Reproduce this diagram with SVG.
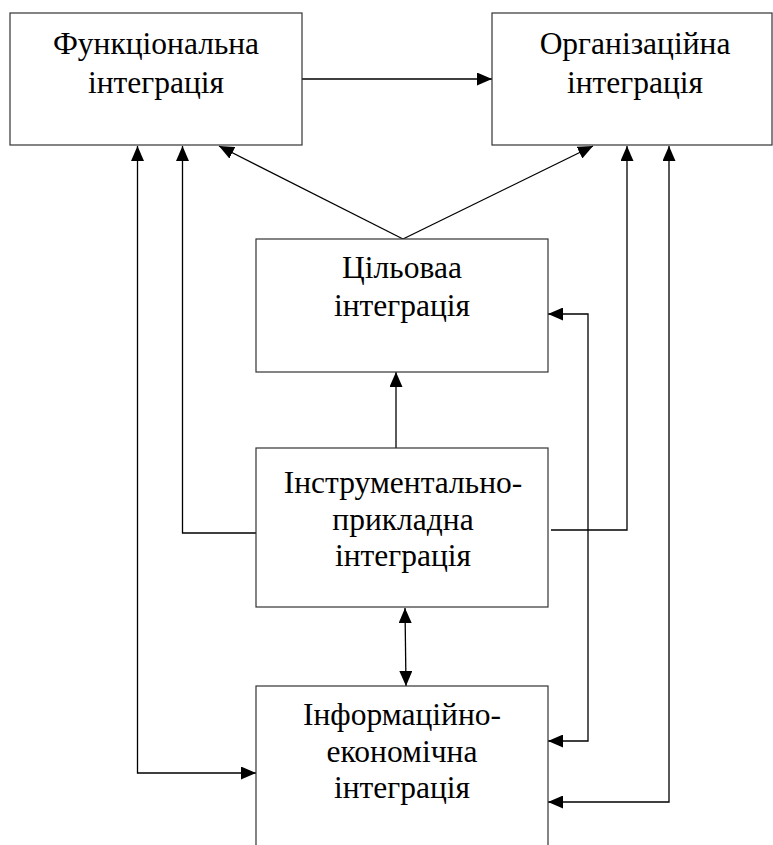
<svg xmlns="http://www.w3.org/2000/svg" width="773" height="845" viewBox="0 0 773 845">
<style>
.box{fill:#fff;stroke:#333;stroke-width:1.2}
.lbl{font-family:'Liberation Serif','Times New Roman',Tinos,'Noto Serif',FreeSerif,'Nimbus Roman',serif;font-size:31.5px;fill:#000;text-anchor:middle}
.c{fill:none;stroke:#000;stroke-width:1.3}
</style>
<defs>
<marker id="ah" markerUnits="userSpaceOnUse" markerWidth="15" markerHeight="13" refX="15" refY="6.5" orient="auto-start-reverse" viewBox="0 0 15 13">
<path d="M0,0 L15,6.5 L0,13 z" fill="#000"/>
</marker>
</defs>
<rect x="0" y="0" width="773" height="845" fill="#fff"/>
<g id="connectors">
<path class="c" d="M302,79 L492,79" marker-end="url(#ah)"/>
<path class="c" d="M137.5,146 L137.5,773 L256,773" marker-start="url(#ah)" marker-end="url(#ah)"/>
<path class="c" d="M256,533 L182.5,533 L182.5,146" marker-end="url(#ah)"/>
<path class="c" d="M403,239 L219,146" marker-end="url(#ah)"/>
<path class="c" d="M403,239 L593,146" marker-end="url(#ah)"/>
<path class="c" d="M396,448 L396,372" marker-end="url(#ah)"/>
<path class="c" d="M405,608 L406,686" marker-start="url(#ah)" marker-end="url(#ah)"/>
<path class="c" d="M551,530 L627,530 L627,146" marker-end="url(#ah)"/>
<path class="c" d="M548,314 L588,314 L588,741 L548,741" marker-start="url(#ah)" marker-end="url(#ah)"/>
<path class="c" d="M669,146 L669,802 L548,802" marker-start="url(#ah)" marker-end="url(#ah)"/>
</g>
<g id="functional">
<rect class="box" x="10" y="13" width="292" height="132"/>
<text class="lbl" x="156" y="53.5">Функціональна</text>
<text class="lbl" x="156" y="93">інтеграція</text>
</g>
<g id="organizational">
<rect class="box" x="492" y="13" width="280" height="132"/>
<text class="lbl" x="635" y="53.5">Організаційна</text>
<text class="lbl" x="635" y="93">інтеграція</text>
</g>
<g id="target">
<rect class="box" x="256" y="239" width="292" height="133"/>
<text class="lbl" x="402" y="278">Цільоваа</text>
<text class="lbl" x="402" y="316">інтеграція</text>
</g>
<g id="instrumental">
<rect class="box" x="256" y="448" width="292" height="159"/>
<text class="lbl" x="403" y="493">Інструментально-</text>
<text class="lbl" x="403" y="530">прикладна</text>
<text class="lbl" x="403" y="566">інтеграція</text>
</g>
<g id="information">
<rect class="box" x="256" y="686" width="292" height="170"/>
<text class="lbl" x="402" y="725">Інформаційно-</text>
<text class="lbl" x="402" y="762">економічна</text>
<text class="lbl" x="402" y="798">інтеграція</text>
</g>
</svg>
